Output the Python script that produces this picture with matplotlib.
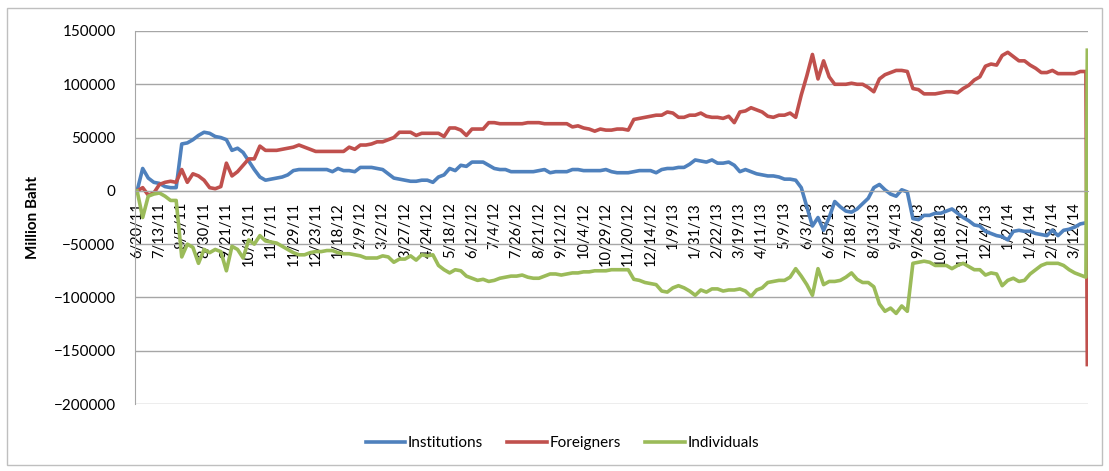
import matplotlib
matplotlib.use('Agg')
import matplotlib.pyplot as plt
import numpy as np
from matplotlib.patches import Rectangle

# tick labels, one every 16 trading days
date_labels = ['6/20/11', '7/13/11', '8/5/11', '8/30/11', '9/21/11', '10/13/11', '11/7/11',
               '11/29/11', '12/23/11', '1/18/12', '2/9/12', '3/2/12', '3/27/12', '4/24/12',
               '5/18/12', '6/12/12', '7/4/12', '7/26/12', '8/21/12', '9/12/12', '10/4/12',
               '10/29/12', '11/20/12', '12/14/12', '1/9/13', '1/31/13', '2/22/13', '3/19/13',
               '4/11/13', '5/9/13', '6/3/13', '6/25/13', '7/18/13', '8/13/13', '9/4/13',
               '9/26/13', '10/18/13', '11/12/13', '12/4/13', '1/2/14', '1/24/14', '2/18/14',
               '3/12/14']

# cumulative net buying (million baht), read every 4 trading days + last day
institutions = [
    0, 21000, 12000, 8000, 7000, 4000, 3000, 3000, 44000, 45000, 48000, 52000, 55000, 54000,
    51000, 50000, 48000, 38000, 40000, 36000, 28000, 20000, 13000, 10000, 11000, 12000, 13000,
    15000, 19000, 20000, 20000, 20000, 20000, 20000,
    20000, 18000, 21000, 19000, 19000, 18000, 22000, 22000, 22000, 21000, 20000, 16000, 12000,
    11000, 10000, 9000, 9000, 10000, 10000, 8000, 13000, 15000, 21000, 19000, 24000, 23000,
    27000, 27000, 27000, 24000, 21000, 20000, 20000, 18000,
    18000, 18000, 18000, 18000, 19000, 20000, 17000, 18000, 18000, 18000, 20000, 20000, 19000,
    19000, 19000, 19000, 20000, 18000, 17000, 17000, 17000, 18000, 19000, 19000, 19000, 17000,
    20000, 21000, 21000, 22000, 22000, 25000, 29000, 28000,
    27000, 29000, 26000, 26000, 27000, 24000, 18000, 20000, 18000, 16000, 15000, 14000, 14000,
    13000, 11000, 11000, 10000,
    3000, -15000, -33000, -25000, -37000, -25000, -10000, -15000, -19000, -20000, -17000,
    -12000, -7000, 3000, 6000, 1000, -3000, -5000, 1000, -1000, -26000, -27000, -23000, -23000,
    -21000, -21000, -19000, -17000, -21000, -25000, -28000, -32000, -33000, -38000, -40000,
    -42000, -43000, -46000, -38000, -37000, -38000, -38000, -40000, -41000, -42000, -37000,
    -42000, -37000, -36000, -34000, -31000, -30000,
    -30000]

foreigners = [
    0, 3000, -4000, -2000, 6000, 8000, 9000, 8000, 20000, 8000, 16000, 14000, 10000, 3000,
    2000, 4000, 26000, 14000, 18000, 24000, 30000, 30000, 42000, 38000, 38000, 38000, 39000,
    40000, 41000, 43000, 41000, 39000, 37000, 37000,
    37000, 37000, 37000, 37000, 41000, 39000, 43000, 43000, 44000, 46000, 46000, 48000, 50000,
    55000, 55000, 55000, 52000, 54000, 54000, 54000, 54000, 51000, 59000, 59000, 57000, 52000,
    58000, 58000, 58000, 64000, 64000, 63000, 63000, 63000,
    63000, 63000, 64000, 64000, 64000, 63000, 63000, 63000, 63000, 63000, 60000, 61000, 59000,
    58000, 56000, 58000, 57000, 57000, 58000, 58000, 57000, 67000, 68000, 69000, 70000, 71000,
    71000, 74000, 73000, 69000, 69000, 71000, 71000, 73000,
    70000, 69000, 69000, 68000, 70000, 64000, 74000, 75000, 78000, 76000, 74000, 70000, 69000,
    71000, 71000, 73000, 69000,
    90000, 108000, 128000, 105000, 122000, 107000, 100000, 100000, 100000, 101000, 100000,
    100000, 97000, 93000, 105000, 109000, 111000,
    113000, 113000, 112000, 96000, 95000, 91000, 91000, 91000, 92000, 93000, 93000, 92000,
    96000, 99000, 104000, 107000, 117000, 119000, 118000, 127000, 130000, 126000, 122000,
    122000, 118000, 115000, 111000, 111000, 113000, 110000, 110000, 110000, 110000, 112000,
    112000,
    -163000]

individuals = [
    0, -25000, -5000, -3000, -2000, -5000, -9000, -9000, -62000, -50000, -53000, -68000,
    -55000, -58000, -55000, -57000, -75000, -52000, -55000, -63000, -46000, -50000, -42000,
    -47000, -48000, -49000, -52000, -55000, -58000, -60000, -60000, -58000, -57000, -57000,
    -56000, -56000, -58000, -59000, -59000, -60000, -61000, -63000, -63000, -63000, -61000,
    -62000, -67000, -64000, -64000, -61000, -65000, -60000, -61000, -60000, -70000, -74000,
    -77000, -74000, -75000, -80000, -82000, -84000, -83000, -85000, -84000, -82000, -81000,
    -80000,
    -80000, -79000, -81000, -82000, -82000, -80000, -78000, -78000, -79000, -78000, -77000,
    -77000, -76000, -76000, -75000, -75000, -75000, -74000, -74000, -74000, -74000, -83000,
    -84000, -86000, -87000, -88000, -94000, -95000, -91000, -89000, -91000, -94000, -98000,
    -93000,
    -95000, -92000, -92000, -94000, -93000, -93000, -92000, -94000, -99000, -93000, -91000,
    -86000, -85000, -84000, -84000, -81000, -73000,
    -80000, -88000, -98000, -73000, -88000, -85000, -85000, -84000, -81000, -77000, -83000,
    -86000, -86000, -90000, -106000,
    -113000, -110000, -115000, -108000, -113000, -68000, -67000, -66000, -67000, -70000,
    -70000, -70000, -73000, -70000, -68000, -71000, -74000, -74000, -79000, -77000, -78000,
    -89000, -84000, -82000, -85000, -84000, -78000, -74000, -70000, -68000, -68000, -68000,
    -70000, -74000, -77000, -79000, -81000,
    132000]

step = 4        # trading days between samples
label_every = 16
n = len(institutions)
days = np.append(np.arange(n - 1) * step, (n - 2) * step + 1)

plt.rcParams['font.family'] = ['Lato', 'DejaVu Sans']

fig = plt.figure(figsize=(11.09, 4.71), dpi=100)
ax = fig.add_axes([135 / 1109, 1 - 404 / 471, (1088 - 135) / 1109, (404 - 31) / 471])

grid_c = '#a6a6a6'
# spine moved first: set_position resets the tick label properties
for s in ['top', 'right']:
    ax.spines[s].set_visible(False)
ax.spines['bottom'].set_position(('data', 0))
ax.spines['bottom'].set_color(grid_c)
ax.spines['left'].set_color(grid_c)

ax.plot(days, institutions, color='#4f81bd', lw=2.6, label='Institutions', solid_joinstyle='round')
ax.plot(days, foreigners, color='#c0504d', lw=2.6, label='Foreigners', solid_joinstyle='round')
ax.plot(days, individuals, color='#9bbb59', lw=2.6, label='Individuals', solid_joinstyle='round')

ax.set_xlim(-1.5, days[-1] + 0.5)
ax.set_ylim(-200000, 150000)
ax.set_yticks(np.arange(-200000, 150001, 50000))
ax.tick_params(axis='y', length=0, pad=14, labelsize=11)
ax.yaxis.grid(True, color=grid_c, lw=1)
ax.set_axisbelow(True)

ax.set_xticks(np.arange(len(date_labels)) * label_every)
ax.set_xticklabels(date_labels)
ax.tick_params(axis='x', length=0, pad=8, labelsize=10.5, labelrotation=90)
for t in ax.get_xticklabels():
    t.set_va('top')
    t.set_ha('center')

ax.set_ylabel('Million Baht', fontweight='bold', fontsize=11, labelpad=10)

fig.legend(loc='center', bbox_to_anchor=(0.507, 1 - 443 / 471), ncol=3, frameon=False,
           fontsize=11, handlelength=2.6, handletextpad=0.15, columnspacing=1.6)

fig.patches.append(Rectangle((7 / 1109, 1 - 465 / 471), 1095 / 1109, 457 / 471,
                             transform=fig.transFigure, fill=False, ec='#bfbfbf', lw=1))

fig.savefig('out.png', dpi=100)
